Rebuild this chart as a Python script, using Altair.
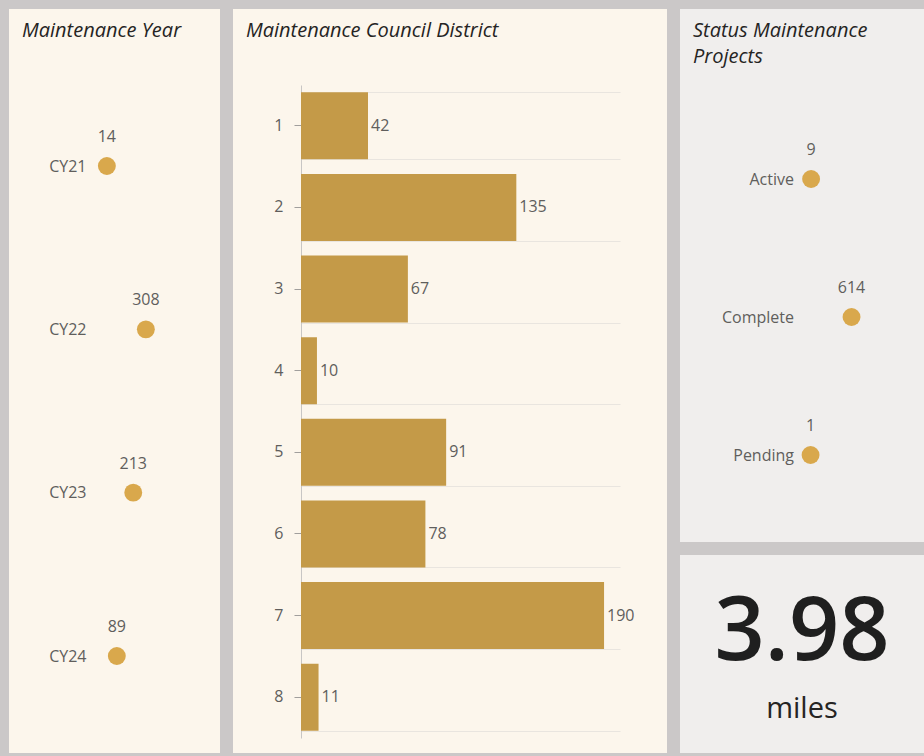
import altair as alt
import pandas as pd

# ---------------- data ----------------
years = ["CY21", "CY22", "CY23", "CY24"]
year_counts = [14, 308, 213, 89]

districts = ["1", "2", "3", "4", "5", "6", "7", "8"]
district_counts = [42, 135, 67, 10, 91, 78, 190, 11]

statuses = ["Active", "Complete", "Pending"]
status_counts = [9, 614, 1]

total_miles = [3.98]
miles_unit = ["miles"]

titles = [["Maintenance Year"], ["Maintenance Council District"],
          ["Status Maintenance", "Projects"]]

# ---------------- style ----------------
FONT = "Open Sans"
GUTTER = "#cbc8c8"
CREAM = "#fcf6ec"
GRAYP = "#f0eeed"
BAR = "#c49a48"
DOT = "#d9a84c"
TITLE_C = "#252423"
LABEL_C = "#605e5c"
LBL_SIZE = 16
VAL_SIZE = 16

df_year = pd.DataFrame({"year": years, "count": year_counts})
df_dist = pd.DataFrame({"district": districts, "count": district_counts})
df_stat = pd.DataFrame({"status": statuses, "count": status_counts})
df_kpi = pd.DataFrame({"value": total_miles, "unit": miles_unit})


def title_layers(lines):
    out = []
    for i, line in enumerate(lines):
        out.append(alt.Chart(pd.DataFrame({"t": [line]})).mark_text(
            align="left", baseline="alphabetic", fontStyle="italic", fontSize=20,
            color=TITLE_C, font=FONT
        ).encode(x=alt.value(13), y=alt.value(28 + 26 * i), text="t:N"))
    return out


def dot_panel(df, cat, cat_sort, xdom, xrange, yrange, width, height, title, label_pad, fill):
    base = alt.Chart(df)
    x = alt.X("count:Q", scale=alt.Scale(domain=xdom, range=xrange), axis=None)
    y = alt.Y(f"{cat}:N", sort=cat_sort,
              scale=alt.Scale(type="point", range=yrange, padding=0),
              axis=alt.Axis(title=None, orient="left", offset=-xrange[0], domain=False,
                            ticks=False, grid=False, labelPadding=label_pad,
                            labelFontSize=LBL_SIZE, labelColor=LABEL_C, labelFont=FONT))
    pts = base.mark_circle(size=320, color=DOT, opacity=1).encode(x=x, y=y)
    lbl = base.mark_text(dy=-29, fontSize=VAL_SIZE, color=LABEL_C, font=FONT).encode(
        x=x, y=y, text="count:Q")
    return alt.layer(pts, lbl, *title_layers(title)).properties(
        width=width, height=height, view=alt.ViewBackground(fill=fill))


panel1 = dot_panel(df_year, "year", years, [0, 300], [96, 135.8], [157, 647],
                   211, 744, titles[0], 19, CREAM)

# bar panel
xb = alt.X("count:Q", scale=alt.Scale(domain=[0, 200], range=[68, 387]), axis=None)
bscale = alt.Scale(type="band", range=[76, 729], paddingInner=0.18, paddingOuter=0.09)
yb = alt.Y("district:N", sort=districts, scale=bscale,
           axis=alt.Axis(title=None, orient="left", offset=-68, domain=True,
                         domainColor="#c8c6c4", ticks=True, tickSize=7, tickWidth=1,
                         tickColor="#a19f9d", tickBand="center",
                         grid=False, labelPadding=11,
                         labelFontSize=LBL_SIZE, labelColor=LABEL_C, labelFont=FONT))
yg = alt.Y("district:N", sort=districts, scale=bscale,
           axis=alt.Axis(title=None, orient="left", offset=-68, domain=False,
                         ticks=False, labels=False, tickBand="extent",
                         grid=True, gridColor="#e9e5df"))
bbase = alt.Chart(df_dist)
bars = bbase.mark_bar(color=BAR).encode(x=xb, y=yb)
blabels = bbase.mark_text(align="left", dx=3, fontSize=VAL_SIZE, color=LABEL_C,
                          font=FONT).encode(x=xb, y=yg, text="count:Q")
panel2 = alt.layer(bars, blabels, *title_layers(titles[1])).resolve_axis(
    y="independent").properties(
    width=434, height=744, view=alt.ViewBackground(fill=CREAM))

panel3 = dot_panel(df_stat, "status", statuses, [0, 600], [130.5, 170.6], [170, 446],
                   244, 533, titles[2], 17, GRAYP)

kbase = alt.Chart(df_kpi)
kval = kbase.mark_text(align="center", baseline="alphabetic", fontSize=88, color="#1f1f1f",
                       fontWeight=600, font=FONT).encode(
    x=alt.value(122), y=alt.value(105), text=alt.Text("value:Q", format=".2f"))
kunit = kbase.mark_text(align="center", baseline="alphabetic", fontSize=29, color="#252423",
                        font=FONT).encode(x=alt.value(122), y=alt.value(163), text="unit:N")
panel4 = alt.layer(kval, kunit).properties(
    width=244, height=198, view=alt.ViewBackground(fill=GRAYP))

chart = alt.hconcat(
    panel1, panel2, alt.vconcat(panel3, panel4, spacing=13), spacing=13
).properties(
    padding={"left": 9, "top": 9, "right": 0, "bottom": 3},
    background=GUTTER,
).configure_view(strokeWidth=0)

chart.save("out.html", embed_options={"renderer": "svg", "actions": False})
